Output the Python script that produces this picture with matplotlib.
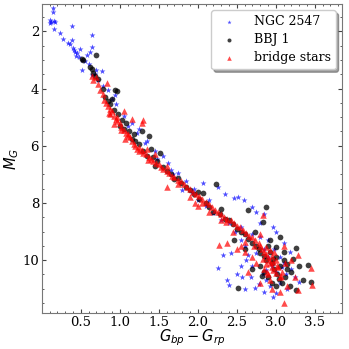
import matplotlib
matplotlib.use("Agg")
import matplotlib.pyplot as plt
from matplotlib.ticker import AutoMinorLocator

plt.rcParams["font.family"] = "DejaVu Serif"
plt.rcParams["mathtext.fontset"] = "dejavusans"

# NGC 2547 (colour, absolute magnitude)
ngc_c = [0.14, 0.14, 0.10, 0.12, 0.15, 0.17, 0.11, 0.16, 0.23, 0.38, 0.27, 0.34, 0.36, 0.38,
         0.40, 0.41, 0.43, 0.45, 0.49, 0.64, 0.64, 0.62, 0.58, 0.51, 0.70, 0.77, 0.94, 0.64,
         0.44, 0.47, 0.52, 0.55, 0.60, 0.68, 0.72, 0.78, 0.85, 0.90, 0.95, 1.05, 1.15, 1.25,
         1.35, 1.45, 1.55, 1.62, 1.68, 1.75, 1.85, 1.95, 2.07, 2.26, 2.46, 2.59, 2.51, 2.35,
         2.15, 2.70, 2.75, 2.96, 3.00, 3.10, 2.65, 2.32, 2.42, 2.26, 2.38, 2.40, 2.57, 2.50,
         2.74, 2.96, 2.83, 3.13, 3.30, 2.60, 2.55, 2.80, 2.85, 2.90, 2.95, 3.00, 2.88, 2.92,
         3.05, 3.15, 3.20, 3.05, 2.70, 2.62, 2.68, 2.78, 2.48, 2.55, 2.80, 2.85, 2.90, 3.18,
         2.98, 3.10, 2.20, 2.10, 2.00, 1.80, 2.30, 2.40, 2.70, 3.25, 2.85, 2.60, 3.00,
         1.10, 1.22, 1.32, 1.48, 1.65, 1.92, 2.55, 2.75, 2.88, 3.08]
ngc_m = [1.20, 1.33, 1.62, 1.66, 1.64, 1.68, 1.70, 1.92, 2.06, 1.82, 2.27, 2.41, 2.45, 2.31,
         2.59, 2.66, 2.72, 2.76, 2.60, 2.13, 2.55, 2.72, 2.84, 3.34, 3.34, 3.40, 4.23, 3.53,
         2.85, 2.90, 3.00, 3.05, 3.15, 3.50, 3.70, 3.90, 4.05, 4.35, 4.55, 4.95, 5.20, 5.40,
         5.85, 6.20, 6.35, 6.60, 7.00, 6.95, 7.25, 7.50, 7.30, 7.45, 7.83, 7.90, 7.80, 7.70,
         7.90, 8.15, 8.30, 8.85, 9.00, 9.40, 9.83, 9.83, 9.76, 10.28, 10.70, 10.87, 10.60, 10.50,
         10.98, 11.30, 10.50, 10.50, 10.77, 9.50, 9.30, 9.20, 9.60, 9.90, 10.20, 10.40, 10.70, 10.90,
         10.80, 11.00, 10.30, 9.90, 10.20, 10.00, 10.60, 10.85, 9.00, 8.85, 8.70, 8.40, 9.30, 9.70,
         9.60, 10.10, 8.35, 8.10, 7.90, 7.55, 8.60, 8.70, 9.10, 10.60, 11.10, 11.00, 11.15,
         5.30, 5.55, 5.90, 6.45, 6.85, 7.60, 10.20, 9.75, 10.35, 10.25]

# BBJ 1
bbj_c = [0.70, 0.51, 0.53, 0.62, 0.64, 0.66, 0.68, 0.72, 0.94, 0.97, 0.81, 0.78, 0.85, 0.88,
         0.92, 0.98, 1.03, 1.08, 1.05, 1.12, 1.18, 1.15, 1.25, 1.30, 1.28, 1.37, 1.35, 1.42,
         1.48, 1.45, 1.52, 1.55, 1.60, 1.65, 1.70, 1.75, 1.78, 1.85, 1.90, 1.95, 2.07, 2.02,
         2.10, 2.15, 2.23, 2.20, 2.28, 2.35, 2.40, 2.45, 2.46, 2.50, 2.55, 2.60, 2.64, 2.87,
         2.83, 2.65, 2.70, 2.75, 2.78, 2.80, 2.85, 2.88, 2.90, 2.93, 2.95, 2.98, 3.00, 3.02,
         3.05, 3.06, 3.10, 3.12, 3.15, 3.20, 3.26, 3.30, 3.42, 3.45, 3.26, 2.51, 2.90, 2.95,
         3.00, 2.85, 3.08, 3.18, 2.70, 2.80, 3.35, 2.60, 2.92, 3.00, 3.10, 1.00, 1.20, 1.40,
         0.90, 2.30, 2.00, 2.96, 3.04, 2.82, 3.14, 3.22, 2.74]
bbj_m = [2.83, 2.97, 3.00, 3.24, 3.30, 3.47, 3.55, 3.65, 4.06, 4.10, 4.30, 4.00, 4.45, 4.55,
         4.75, 4.90, 5.10, 5.20, 5.40, 5.50, 5.60, 5.75, 5.95, 6.20, 5.50, 5.65, 6.35, 6.40,
         6.55, 6.70, 6.25, 6.75, 6.90, 7.00, 7.15, 7.13, 7.30, 7.45, 7.55, 7.70, 7.66, 7.85,
         8.00, 8.15, 7.35, 8.30, 8.40, 8.55, 8.60, 8.75, 9.30, 8.90, 9.00, 9.10, 8.25, 8.15,
         8.67, 9.25, 9.40, 9.50, 9.60, 9.75, 9.85, 10.00, 9.50, 9.70, 10.10, 10.30, 9.90, 10.50,
         10.20, 9.20, 10.00, 10.60, 10.30, 10.40, 9.58, 10.20, 10.18, 10.77, 11.05, 10.98, 10.60, 10.80,
         10.90, 10.40, 10.80, 10.90, 10.30, 10.20, 10.70, 9.60, 9.30, 9.55, 9.70, 5.30, 5.85, 6.10,
         4.35, 8.20, 7.60, 9.95, 10.65, 10.55, 10.15, 9.95, 9.00]

# bridge stars
br_c = [0.64, 0.83, 0.75, 0.72, 0.78, 0.80, 0.82, 0.85, 0.87, 0.90, 0.88, 0.92, 0.95, 0.97,
        1.00, 0.93, 1.02, 1.05, 1.08, 1.10, 1.06, 1.13, 1.16, 1.29, 1.15, 1.18, 1.20, 1.22,
        1.25, 1.28, 1.30, 1.33, 1.35, 1.38, 1.40, 1.43, 1.46, 1.50, 1.53, 1.56, 1.60, 1.60,
        1.63, 1.67, 1.70, 1.74, 1.78, 1.82, 1.86, 1.90, 1.94, 1.97, 1.98, 2.02, 2.06, 2.10,
        2.14, 2.14, 2.18, 2.22, 2.26, 2.30, 2.34, 2.38, 2.42, 2.46, 2.50, 2.54, 2.58, 2.62,
        2.66, 2.70, 2.74, 2.84, 2.27, 2.38, 2.78, 2.80, 2.82, 2.85, 2.87, 2.88, 2.90, 2.91,
        2.93, 2.95, 2.95, 2.97, 2.98, 3.00, 3.00, 3.02, 2.85, 2.88, 2.90, 2.93, 3.05, 3.08,
        3.29, 3.45, 3.47, 3.10, 3.28, 3.15, 2.70, 2.75, 2.60, 2.65, 2.55, 2.50, 3.10, 3.12,
        3.20, 3.25, 2.95, 3.05, 2.80, 1.30, 1.05, 2.00, 2.30, 1.90, 2.45, 2.60, 2.80, 0.65,
        0.70, 1.60, 1.45, 0.86, 0.96, 1.01, 1.11, 1.24, 1.36, 1.75, 2.05, 2.36, 2.72, 2.92,
        2.97, 3.03, 2.84, 2.89, 3.07]
br_m = [3.55, 3.81, 4.05, 3.85, 4.20, 4.40, 4.50, 4.60, 4.70, 4.80, 4.90, 4.95, 5.05, 5.15,
        5.20, 5.25, 5.35, 5.45, 5.55, 5.65, 5.75, 5.70, 5.08, 5.20, 5.85, 5.95, 6.00, 6.10,
        6.05, 6.15, 6.25, 6.30, 6.10, 6.40, 6.45, 6.55, 6.60, 6.65, 6.75, 6.80, 7.43, 6.90,
        6.95, 7.05, 7.10, 7.20, 7.25, 7.35, 7.45, 7.50, 7.60, 8.01, 7.70, 7.75, 7.85, 7.95,
        8.32, 8.05, 8.15, 8.25, 8.30, 8.40, 8.50, 8.55, 8.60, 8.70, 8.80, 8.85, 8.95, 9.05,
        9.15, 9.20, 9.30, 8.43, 9.48, 9.40, 9.40, 9.50, 9.60, 9.70, 9.80, 9.55, 9.90, 10.00,
        10.10, 9.85, 10.25, 10.35, 9.70, 10.45, 10.00, 10.20, 10.30, 10.15, 10.50, 10.70, 10.60, 10.40,
        9.83, 10.28, 10.88, 11.50, 11.05, 10.90, 9.90, 10.10, 9.70, 10.40, 9.50, 9.60, 9.50, 10.10,
        10.00, 10.60, 11.00, 11.10, 10.80, 5.10, 4.80, 8.10, 8.60, 7.80, 9.00, 9.35, 9.10, 3.70,
        3.60, 6.70, 6.30, 4.85, 5.00, 5.45, 5.60, 6.20, 6.50, 7.35, 8.00, 8.65, 9.50, 9.65,
        10.05, 10.25, 9.95, 10.40, 10.55]

fig = plt.figure(figsize=(3.49, 3.49), dpi=100)
ax = fig.add_axes([0.120, 0.103, 0.860, 0.885])

ax.scatter(ngc_c, ngc_m, marker="*", s=20, color="blue", alpha=0.7, linewidths=0, label="NGC 2547")
ax.scatter(bbj_c, bbj_m, marker="o", s=17, color="black", alpha=0.75, linewidths=0, label="BBJ 1")
ax.scatter(br_c, br_m, marker="^", s=22, color="red", alpha=0.7, linewidths=0, label="bridge stars")

ax.set_xlim(0, 3.85)
ax.set_ylim(11.85, 1.05)
ax.set_xticks([0.5, 1.0, 1.5, 2.0, 2.5, 3.0, 3.5])
ax.set_yticks([2, 4, 6, 8, 10])
ax.xaxis.set_minor_locator(AutoMinorLocator(5))
ax.yaxis.set_minor_locator(AutoMinorLocator(4))
ax.tick_params(which="both", direction="in", top=True, right=True, labelsize=9.5, colors="#444444",
               labelcolor="black", pad=2)
ax.tick_params(which="major", length=3)
ax.tick_params(which="minor", length=1.5)
for s in ax.spines.values():
    s.set_color("#777777")

ax.set_xlabel(r"$G_{bp} - G_{rp}$", fontsize=10.5, labelpad=-1)
ax.set_ylabel(r"$M_G$", fontsize=10.5, labelpad=1)

ax.legend(loc="upper right", fontsize=9, shadow=True, fancybox=True, markerscale=0.7,
          handletextpad=1.0, borderpad=0.4, labelspacing=0.4, framealpha=1)

fig.savefig("out.png", dpi=100)
